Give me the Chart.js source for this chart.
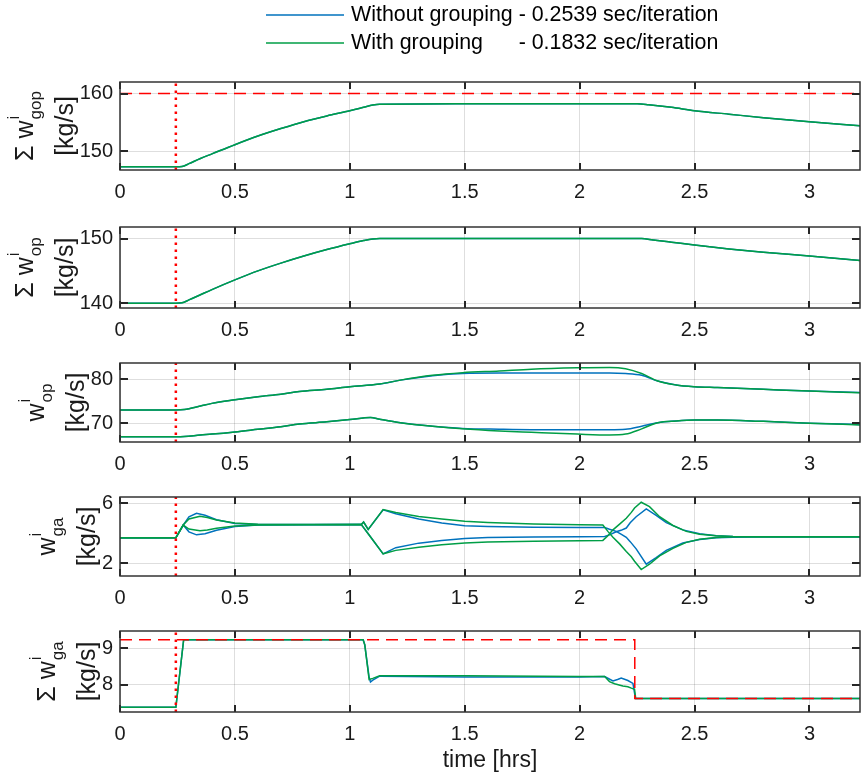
<!DOCTYPE html>
<html>
<head>
<meta charset="utf-8">
<script src="https://cdn.jsdelivr.net/npm/chart.js@4.4.0/dist/chart.umd.min.js"></script>
<style>
  body { margin: 0; background: #fff; }
  #fig { position: relative; width: 861px; height: 775px; }
  canvas { position: absolute; left: 0; }
</style>
</head>
<body>
<div id="fig">
  <canvas id="c1"></canvas>
  <canvas id="c2"></canvas>
  <canvas id="c3"></canvas>
  <canvas id="c4"></canvas>
  <canvas id="c5"></canvas>
</div>
<script>
// ---- labels ----
const legendLabels = ['Without grouping - 0.2539 sec/iteration', 'With grouping      - 0.1832 sec/iteration'];
const xTitle = 'time [hrs]';
const xTicks = [0, 0.5, 1, 1.5, 2, 2.5, 3];
const xRange = [0, 3.22];
const switchTime = [0.243, 0.243];
const yTitleMain = ['Σ w', 'Σ w', 'w', 'w', 'Σ w'];
const yTitleSup = ['i', 'i', 'i', 'i', 'i'];
const yTitleSub = ['gop', 'op', 'op', 'ga', 'ga'];
const yTitleUnit = '[kg/s]';

// ---- panel 1: sum w_gop ----
const p1Ticks = [150, 160];
const p1Range = [146.7, 162.0];
const p1Time = [0, 0.243, 0.27, 0.3, 0.35, 0.4, 0.5, 0.6, 0.7, 0.8, 0.9, 1.0, 1.06, 1.1, 1.13, 1.5, 2.0, 2.25, 2.3, 2.4, 2.5, 2.65, 2.8, 3.0, 3.22];
const p1Blue = [147.25, 147.25, 147.3, 147.8, 148.7, 149.5, 151.1, 152.6, 153.9, 155.1, 156.1, 157.0, 157.6, 158.0, 158.15, 158.2, 158.2, 158.2, 158.05, 157.6, 157.0, 156.4, 155.8, 155.1, 154.4];
const p1Green = [147.25, 147.25, 147.3, 147.8, 148.7, 149.5, 151.1, 152.6, 153.9, 155.1, 156.1, 157.0, 157.6, 158.0, 158.15, 158.2, 158.2, 158.2, 158.05, 157.6, 157.0, 156.4, 155.8, 155.1, 154.4];
const p1LimitTime = [0, 3.22];
const p1Limit = [160, 160];

// ---- panel 2: sum w_op ----
const p2Ticks = [140, 150];
const p2Range = [139.25, 151.8];
const p2Time = [0, 0.243, 0.27, 0.3, 0.35, 0.4, 0.5, 0.6, 0.7, 0.8, 0.9, 1.0, 1.06, 1.1, 1.13, 1.5, 2.0, 2.27, 2.32, 2.4, 2.5, 2.65, 2.8, 3.0, 3.22];
const p2Blue = [140, 140, 140.05, 140.5, 141.3, 142.1, 143.6, 145.0, 146.2, 147.3, 148.3, 149.2, 149.7, 149.95, 150.0, 150.0, 150.0, 150.0, 149.8, 149.45, 149.0, 148.4, 147.9, 147.3, 146.6];
const p2Green = [140, 140, 140.05, 140.5, 141.3, 142.1, 143.6, 145.0, 146.2, 147.3, 148.3, 149.2, 149.7, 149.95, 150.0, 150.0, 150.0, 150.0, 149.8, 149.45, 149.0, 148.4, 147.9, 147.3, 146.6];

// ---- panel 3: w_op per well ----
const p3Ticks = [70, 80];
const p3Range = [65.7, 83.7];
const p3Time = [0, 0.243, 0.28, 0.35, 0.4, 0.5, 0.6, 0.7, 0.78, 0.9, 1.0, 1.09, 1.13, 1.22, 1.36, 1.49, 1.65, 1.79, 1.99, 2.13, 2.2, 2.27, 2.34, 2.42, 2.5, 2.6, 2.8, 3.0, 3.22];
const p3BlueHi = [73, 73, 73.1, 73.9, 74.5, 75.3, 76.0, 76.6, 77.2, 77.7, 78.3, 78.7, 78.9, 79.8, 80.8, 81.3, 81.4, 81.4, 81.4, 81.4, 81.3, 80.9, 79.6, 78.7, 78.3, 78.1, 77.7, 77.3, 77.0];
const p3GreenHi = [73, 73, 73.1, 73.9, 74.5, 75.3, 76.0, 76.6, 77.2, 77.7, 78.3, 78.7, 78.9, 79.8, 80.9, 81.5, 81.9, 82.3, 82.6, 82.7, 82.4, 81.3, 79.6, 78.7, 78.3, 78.1, 77.7, 77.3, 76.9];
const p3BlueLo = [66.9, 66.9, 66.95, 67.3, 67.5, 68.0, 68.6, 69.2, 69.8, 70.3, 70.8, 71.3, 70.9, 70.1, 69.3, 68.8, 68.6, 68.5, 68.5, 68.5, 68.6, 69.3, 70.1, 70.5, 70.7, 70.7, 70.4, 70.0, 69.7];
const p3GreenLo = [66.9, 66.9, 66.95, 67.3, 67.5, 68.0, 68.6, 69.2, 69.8, 70.3, 70.8, 71.3, 70.9, 70.1, 69.3, 68.7, 68.2, 67.9, 67.5, 67.3, 67.5, 68.7, 70.1, 70.5, 70.7, 70.7, 70.4, 70.0, 69.6];

// ---- panel 4: w_ga per well ----
const p4Ticks = [2, 6];
const p4Range = [1.17, 6.41];
const p4BlueTime = [0, 0.243, 0.275, 0.3, 0.333, 0.37, 0.42, 0.5, 0.6, 1.05, 1.06, 1.08, 1.145, 1.2, 1.3, 1.4, 1.5, 1.6, 1.8, 2.0, 2.109, 2.13, 2.159, 2.18, 2.203, 2.22, 2.246, 2.29, 2.333, 2.377, 2.449, 2.522, 2.594, 2.667, 2.8, 3.22];
const p4BlueA = [3.7, 3.7, 4.55, 5.1, 5.33, 5.2, 4.9, 4.66, 4.59, 4.59, 4.75, 4.26, 5.56, 5.3, 4.95, 4.68, 4.5, 4.45, 4.4, 4.38, 4.38, 4.27, 4.13, 3.95, 3.74, 3.45, 2.97, 1.95, 2.39, 2.87, 3.36, 3.59, 3.7, 3.74, 3.77, 3.78];
const p4BlueB = [3.7, 3.7, 4.55, 4.1, 3.9, 3.97, 4.2, 4.45, 4.56, 4.59, 4.38, 3.97, 2.64, 3.05, 3.35, 3.53, 3.66, 3.72, 3.76, 3.78, 3.79, 3.9, 4.1, 4.2, 4.35, 4.7, 5.1, 5.62, 5.19, 4.71, 4.23, 3.97, 3.84, 3.79, 3.78, 3.78];
const p4GreenTime = [0, 0.243, 0.275, 0.3, 0.348, 0.38, 0.42, 0.5, 0.6, 1.05, 1.06, 1.08, 1.145, 1.2, 1.3, 1.4, 1.5, 1.6, 1.8, 2.0, 2.101, 2.123, 2.145, 2.174, 2.203, 2.225, 2.239, 2.268, 2.304, 2.348, 2.406, 2.464, 2.522, 2.594, 2.667, 2.8, 3.22];
const p4GreenC = [3.7, 3.7, 4.55, 4.95, 5.13, 5.05, 4.88, 4.68, 4.6, 4.59, 4.75, 4.26, 5.58, 5.38, 5.12, 4.95, 4.8, 4.72, 4.62, 4.57, 4.55, 4.13, 3.74, 3.3, 2.8, 2.45, 2.15, 1.6, 1.95, 2.5, 3.0, 3.4, 3.6, 3.72, 3.77, 3.78, 3.78];
const p4GreenD = [3.7, 3.7, 4.55, 4.28, 4.17, 4.22, 4.33, 4.48, 4.56, 4.59, 4.38, 3.97, 2.64, 2.87, 3.07, 3.24, 3.36, 3.43, 3.48, 3.51, 3.53, 3.84, 4.23, 4.61, 5.0, 5.39, 5.68, 6.06, 5.77, 5.1, 4.52, 4.13, 3.94, 3.84, 3.79, 3.78, 3.78];

// ---- panel 5: sum w_ga ----
const p5Ticks = [8, 9];
const p5Range = [7.24, 9.48];
const p5SetTime = [0, 2.24, 2.24, 3.22];
const p5Set = [9.24, 9.24, 7.61, 7.61];
const p5BlueTime = [0, 0.243, 0.277, 1.058, 1.065, 1.084, 1.09, 1.1, 1.13, 1.5, 2.0, 2.109, 2.145, 2.165, 2.181, 2.21, 2.232, 2.243, 3.22];
const p5Blue = [7.37, 7.37, 9.24, 9.24, 9.1, 8.2, 8.07, 8.12, 8.23, 8.21, 8.21, 8.22, 8.1, 8.14, 8.18, 8.11, 8.03, 7.61, 7.61];
const p5GreenTime = [0, 0.243, 0.277, 1.058, 1.065, 1.084, 1.1, 1.13, 1.5, 2.0, 2.109, 2.13, 2.152, 2.188, 2.21, 2.225, 2.239, 2.244, 3.22];
const p5Green = [7.37, 7.37, 9.24, 9.24, 9.1, 8.14, 8.17, 8.24, 8.24, 8.22, 8.22, 8.08, 8.02, 7.96, 7.94, 7.9, 7.87, 7.61, 7.61];

// ---- styling ----
const BLUE = '#0072BD';
const GREEN = 'rgb(0,158,70)';
const RED = 'rgb(255,0,0)';
const TEXT = '#1a1a1a';
const FONT = "'Liberation Sans', Arial, sans-serif";

function pts(t, v) {
  return t.map((x, i) => ({ x: x, y: v[i] }));
}

function blue(t, v, smooth) {
  return { data: pts(t, v), borderColor: BLUE, borderWidth: 1.5, order: 3, cubicInterpolationMode: smooth ? 'monotone' : 'default' };
}
function green(t, v, smooth) {
  return { data: pts(t, v), borderColor: GREEN, borderWidth: 1.5, order: 2, cubicInterpolationMode: smooth ? 'monotone' : 'default' };
}
function dashed(t, v) {
  return { data: pts(t, v), borderColor: RED, borderWidth: 1.5, borderDash: [12, 7], order: 1 };
}
function dotted(range) {
  return { data: pts(switchTime, range), borderColor: RED, borderWidth: 2.5, borderDash: [2.5, 4.5], order: 0 };
}

const panels = [
  { id: 'c1', top: 0, height: 202, padTop: 82, xh: 32, ticks: p1Ticks, range: p1Range,
    datasets: [blue(p1Time, p1Blue, true), green(p1Time, p1Green, true), dashed(p1LimitTime, p1Limit), dotted(p1Range)] },
  { id: 'c2', top: 208, height: 132, padTop: 8, xh: 32, ticks: p2Ticks, range: p2Range,
    datasets: [blue(p2Time, p2Blue, true), green(p2Time, p2Green, true), dotted(p2Range)] },
  { id: 'c3', top: 344, height: 130, padTop: 8, xh: 32, ticks: p3Ticks, range: p3Range,
    datasets: [blue(p3Time, p3BlueHi, true), blue(p3Time, p3BlueLo, true), green(p3Time, p3GreenHi, true), green(p3Time, p3GreenLo, true), dotted(p3Range)] },
  { id: 'c4', top: 478, height: 130, padTop: 8, xh: 32, ticks: p4Ticks, range: p4Range,
    datasets: [blue(p4BlueTime, p4BlueA), blue(p4BlueTime, p4BlueB), green(p4GreenTime, p4GreenC), green(p4GreenTime, p4GreenD), dotted(p4Range)] },
  { id: 'c5', top: 612, height: 163, padTop: 8, xh: 63, ticks: p5Ticks, range: p5Range, xtitle: true,
    datasets: [blue(p5BlueTime, p5Blue), green(p5GreenTime, p5Green), dashed(p5SetTime, p5Set), dotted(p5Range)] }
];

// box + inward ticks, drawn over the lines
const framePlugin = {
  id: 'frame',
  afterDatasetsDraw(chart) {
    const { ctx, chartArea: a, scales: { x, y } } = chart;
    ctx.save();
    ctx.strokeStyle = '#262626';
    ctx.lineWidth = 2;
    ctx.beginPath();
    x.ticks.forEach(t => {
      const px = Math.round(x.getPixelForValue(t.value));
      ctx.moveTo(px, a.bottom); ctx.lineTo(px, a.bottom - 7);
      ctx.moveTo(px, a.top); ctx.lineTo(px, a.top + 7);
    });
    y.ticks.forEach(t => {
      const py = Math.round(y.getPixelForValue(t.value));
      ctx.moveTo(a.left, py); ctx.lineTo(a.left + 8, py);
      ctx.moveTo(a.right, py); ctx.lineTo(a.right - 8, py);
    });
    ctx.stroke();
    ctx.lineWidth = 1.5;
    ctx.strokeStyle = '#333';
    ctx.strokeRect(a.left, a.top, a.right - a.left, a.bottom - a.top);
    ctx.restore();
  }
};

// two-line y title with super/subscript
const yTitlePlugin = {
  id: 'ytitle',
  afterDraw(chart) {
    const i = panels.findIndex(p => p.id === chart.canvas.id);
    const { ctx, chartArea: a, scales: { y } } = chart;
    ctx.save();
    ctx.font = '20px ' + FONT;
    let maxW = 0;
    y.ticks.forEach(t => { maxW = Math.max(maxW, ctx.measureText(String(t.value)).width); });
    const labelLeft = a.left - 7 - maxW;
    const b2 = labelLeft - 7;
    const b1 = b2 - 40;
    const cy = (a.top + a.bottom) / 2;
    ctx.translate(0, cy);
    ctx.rotate(-Math.PI / 2);
    ctx.fillStyle = TEXT;
    ctx.textBaseline = 'alphabetic';
    ctx.textAlign = 'left';
    ctx.font = '25px ' + FONT;
    const wMain = ctx.measureText(yTitleMain[i]).width;
    ctx.font = '17px ' + FONT;
    const wSmall = Math.max(ctx.measureText(yTitleSup[i]).width, ctx.measureText(yTitleSub[i]).width);
    const x0 = -(wMain + 1 + wSmall) / 2;
    ctx.font = '25px ' + FONT;
    ctx.fillText(yTitleMain[i], x0, b1);
    ctx.font = '17px ' + FONT;
    ctx.fillText(yTitleSup[i], x0 + wMain + 1, b1 - 14);
    ctx.fillText(yTitleSub[i], x0 + wMain + 1, b1 + 8);
    ctx.font = '25px ' + FONT;
    ctx.textAlign = 'center';
    ctx.fillText(yTitleUnit, 0, b2);
    ctx.restore();
  }
};

// legend at the top of the first panel
const legendPlugin = {
  id: 'legendBox',
  afterDraw(chart) {
    if (chart.canvas.id !== 'c1') return;
    const ctx = chart.ctx;
    const colors = [BLUE, GREEN];
    ctx.save();
    ctx.font = '21.4px ' + FONT;
    ctx.textBaseline = 'middle';
    ctx.fillStyle = '#000';
    legendLabels.forEach((lab, k) => {
      const yy = 15 + k * 28;
      ctx.strokeStyle = colors[k];
      ctx.lineWidth = 1.5;
      ctx.beginPath();
      ctx.moveTo(266, yy); ctx.lineTo(344, yy);
      ctx.stroke();
      ctx.fillText(lab, 351, yy);
    });
    ctx.restore();
  }
};

Chart.register(framePlugin, yTitlePlugin, legendPlugin);

panels.forEach(p => {
  const cv = document.getElementById(p.id);
  cv.width = 861;
  cv.height = p.height;
  cv.style.top = p.top + 'px';
  p.datasets.forEach(d => { d.pointRadius = 0; d.fill = false; d.tension = 0; });
  new Chart(cv, {
    type: 'line',
    data: { datasets: p.datasets },
    options: {
      responsive: false,
      animation: false,
      events: [],
      layout: { padding: { top: p.padTop, right: 1, left: 0, bottom: 0 } },
      plugins: { legend: { display: false }, tooltip: { enabled: false } },
      scales: {
        x: {
          type: 'linear', min: xRange[0], max: xRange[1],
          afterBuildTicks: s => { s.ticks = xTicks.map(v => ({ value: v })); },
          afterFit: s => { s.height = p.xh; },
          grid: { color: 'rgba(0,0,0,0.13)', lineWidth: 1, drawTicks: false },
          border: { display: false },
          ticks: { callback: v => String(v), padding: 10, color: TEXT, font: { family: FONT, size: 20 }, maxRotation: 0, autoSkip: false },
          title: p.xtitle
            ? { display: true, text: xTitle, color: TEXT, font: { family: FONT, size: 23 }, padding: { top: 0, bottom: 1 } }
            : { display: false }
        },
        y: {
          min: p.range[0], max: p.range[1],
          afterBuildTicks: s => { s.ticks = p.ticks.map(v => ({ value: v })); },
          afterFit: s => { s.width = 120; },
          grid: { color: 'rgba(0,0,0,0.13)', lineWidth: 1, drawTicks: false },
          border: { display: false },
          ticks: { callback: v => String(v), padding: 7, color: TEXT, font: { family: FONT, size: 20 } }
        }
      }
    }
  });
});
</script>
</body>
</html>
